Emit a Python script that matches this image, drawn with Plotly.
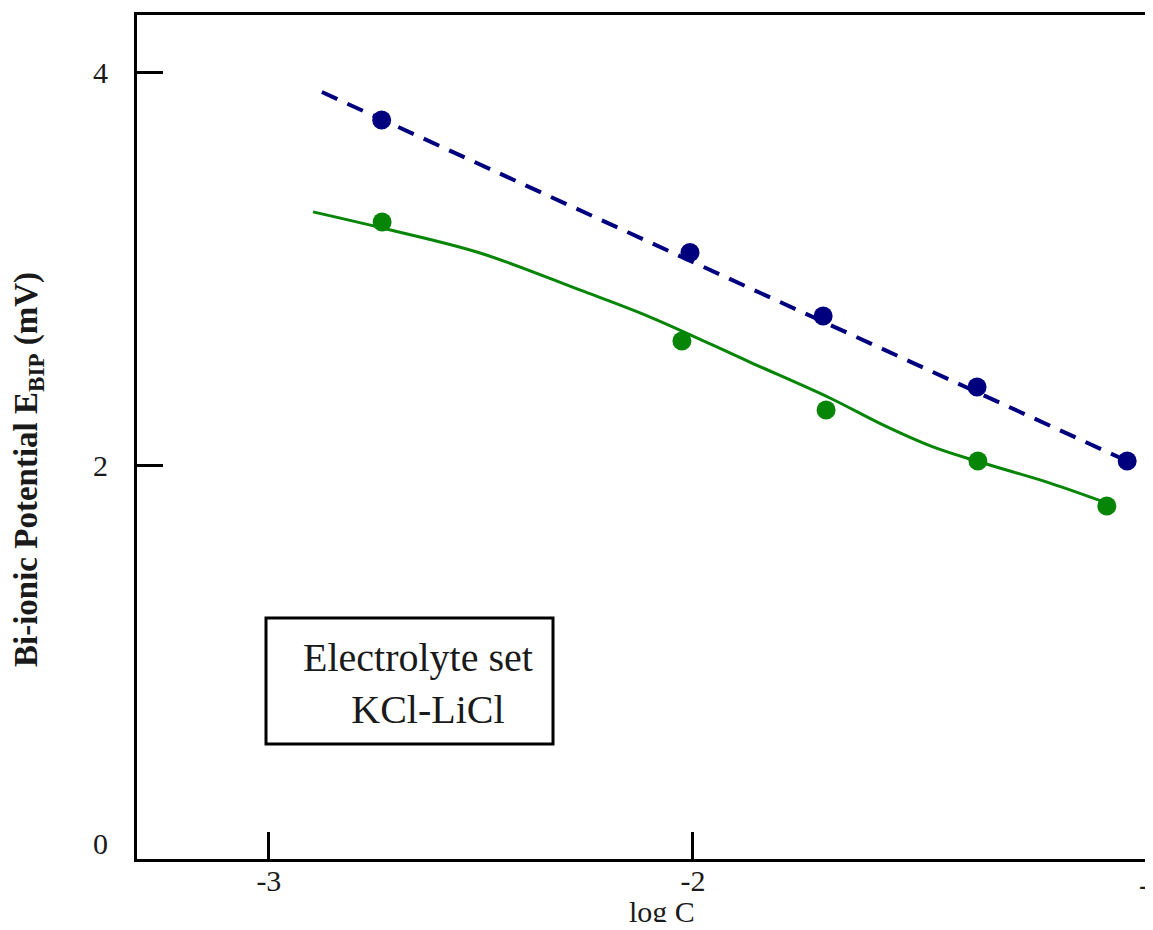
import plotly.graph_objects as go

# ---- data ----
logc_blue = [-2.734, -2.007, -1.693, -1.330, -0.976]
ebip_blue = [3.761, 3.086, 2.763, 2.402, 2.025]

logc_green = [-2.733, -2.026, -1.686, -1.328, -1.024]
ebip_green = [3.242, 2.636, 2.285, 2.025, 1.796]

fit_blue_x = [-2.875, -0.976]
fit_blue_y = [3.903, 2.025]

curve_green_x = [-2.896, -2.733, -2.502, -2.267, -2.101, -1.866, -1.677,
                 -1.552, -1.434, -1.316, -1.158, -1.031]
curve_green_y = [3.293, 3.211, 3.084, 2.896, 2.758, 2.529, 2.346,
                 2.209, 2.097, 2.015, 1.913, 1.817]

x_ticks = [-3, -2]
y_ticks = [2, 4]

BLUE = "#00007f"
GREEN = "#078507"
SERIF = "Liberation Serif"
TXT = "#1a1a1a"

fig = go.Figure()

fig.add_trace(go.Scatter(x=fit_blue_x, y=fit_blue_y, mode="lines",
                         line=dict(color=BLUE, width=4, dash="17px,11px"),
                         showlegend=False, hoverinfo="skip"))
fig.add_trace(go.Scatter(x=curve_green_x, y=curve_green_y, mode="lines",
                         line=dict(color=GREEN, width=3, shape="spline", smoothing=1),
                         showlegend=False, hoverinfo="skip"))
fig.add_trace(go.Scatter(x=logc_blue, y=ebip_blue, mode="markers",
                         marker=dict(color=BLUE, size=19),
                         showlegend=False))
fig.add_trace(go.Scatter(x=logc_green, y=ebip_green, mode="markers",
                         marker=dict(color=GREEN, size=19),
                         showlegend=False))

# page is rendered with an 8px body margin -> size the figure to fit the window
OFF = 8
W, H = 1153 - 2 * OFF, 930 - 2 * OFF
L, R, T, B = 137 - OFF, 0, 15 - OFF, H - (859 - OFF)
pw, ph = W - L - R, H - T - B

fig.update_xaxes(range=[-3.311, -3 + (1145 - 269) / 424], tickvals=x_ticks,
                 ticktext=["-3", "-2"],
                 ticks="inside", ticklen=27, tickwidth=3, tickcolor="black",
                 showline=True, linecolor="black", linewidth=3, mirror=True,
                 showgrid=False, zeroline=False, ticklabelstandoff=-7,
                 tickfont=dict(family=SERIF, size=30, color=TXT))
fig.update_yaxes(range=[0, 4.295], tickvals=y_ticks, ticktext=["2", "4"],
                 ticks="inside", ticklen=26, tickwidth=3, tickcolor="black",
                 showline=True, linecolor="black", linewidth=3, mirror=False,
                 showgrid=False, zeroline=False, ticklabelstandoff=20,
                 tickfont=dict(family=SERIF, size=30, color=TXT))


def px(xpage):
    return (xpage - OFF - L) / pw


def py(ypage):
    return (H - B - (ypage - OFF)) / ph


annotations = [
    dict(text="0", x=px(100), y=py(843), xref="paper", yref="paper",
         showarrow=False, font=dict(family=SERIF, size=30, color=TXT),
         xanchor="center", yanchor="middle"),
    dict(text="-1", x=px(1137), y=py(884), xref="paper", yref="paper",
         showarrow=False, font=dict(family=SERIF, size=30, color=TXT),
         xanchor="left", yanchor="middle"),
    dict(text="log C", x=px(662), y=py(912), xref="paper", yref="paper",
         showarrow=False, font=dict(family=SERIF, size=30, color=TXT),
         xanchor="center", yanchor="middle"),
    dict(text="<b>Bi-ionic Potential E<sub>BIP</sub> (mV)</b>", x=px(28), y=py(470),
         xref="paper", yref="paper", showarrow=False, textangle=-90,
         font=dict(family=SERIF, size=33, color=TXT),
         xanchor="center", yanchor="middle"),
    dict(text="Electrolyte set<br>  KCl-LiCl", x=px(418), y=py(683),
         xref="paper", yref="paper", showarrow=False, align="center",
         font=dict(family=SERIF, size=40, color=TXT),
         xanchor="center", yanchor="middle"),
]

shapes = [
    dict(type="rect", xref="paper", yref="paper",
         x0=px(266), x1=px(553), y0=py(744), y1=py(618),
         line=dict(color="black", width=3), fillcolor="rgba(0,0,0,0)"),
]

fig.update_layout(width=W, height=H, margin=dict(l=L, r=R, t=T, b=B),
                  plot_bgcolor="white", paper_bgcolor="white",
                  annotations=annotations, shapes=shapes, showlegend=False)

fig.write_html("out.html")
